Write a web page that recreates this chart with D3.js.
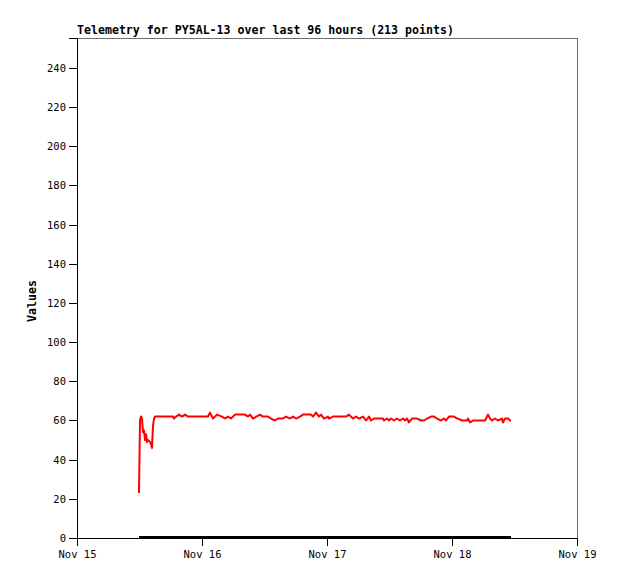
<!DOCTYPE html>
<html>
<head>
<meta charset="utf-8">
<script src="https://cdn.jsdelivr.net/npm/d3@7"></script>
<style>
    body { margin: 0; background: #fff; }
    svg text { font-family: "DejaVu Sans Mono", "Liberation Mono", monospace; }
</style>
</head>
<body>
<div id="chart"></div>
<script>
// telemetry, hours after Nov 15 00:00
var hours = [11.90, 12.10, 12.29, 12.48, 12.67, 12.86, 13.06, 13.25, 13.44, 13.63, 14.02, 14.21, 14.40, 14.59, 14.78, 14.98,
    18.43, 18.62, 19.01, 19.58, 20.16, 20.74, 21.31, 22.27, 25.15, 25.54, 26.11, 26.88, 27.84, 28.42, 28.99, 29.57,
    30.34, 32.26, 32.83, 33.22, 33.79, 35.14, 35.71, 36.67, 37.25, 38.02, 38.59, 39.55, 40.13, 40.90, 41.47, 42.05,
    42.82, 43.39, 43.97, 44.93, 45.31, 45.89, 46.46, 46.85, 47.42, 48.19, 48.38, 49.15, 51.65, 52.22, 52.99, 53.57,
    54.14, 54.91, 55.49, 56.06, 56.45, 57.02, 58.75, 58.94, 59.52, 59.90, 60.29, 60.86, 61.44, 62.02, 62.59, 62.98,
    63.36, 63.74, 64.32, 65.28, 66.05, 66.62, 67.20, 67.97, 68.54, 69.12, 69.89, 70.46, 70.85, 71.42, 72.38, 72.96,
    73.15, 73.92, 74.88, 75.07, 75.46, 76.03, 78.34, 78.91, 79.30, 79.68, 80.26, 80.83, 81.60, 81.79, 82.18, 82.75,
    83.14, 83.33];
var values = [23, 60, 62, 61, 54, 55, 50, 53, 49, 50, 49, 48, 46, 57, 61, 62,
    62, 61, 62, 63, 62, 63, 62, 62, 62, 64, 61, 63, 62, 61, 62, 61,
    63, 63, 62, 63, 61, 63, 62, 62, 61, 60, 61, 61, 62, 61, 62, 61,
    62, 63, 63, 63, 62, 64, 62, 63, 61, 62, 61, 62, 62, 63, 61, 62,
    61, 62, 60, 62, 60, 61, 61, 60, 61, 60, 61, 60, 61, 60, 61, 60,
    61, 59, 61, 61, 60, 60, 61, 62, 62, 61, 60, 61, 60, 62, 62, 61,
    61, 60, 60, 61, 59, 60, 60, 63, 61, 60, 61, 60, 61, 59, 61, 61,
    60, 60];
// second channel sits at zero
var zeroHours = [11.90, 83.33];
var zeroValues = [0, 0];

var dayTicks = ["2023-11-15", "2023-11-16", "2023-11-17", "2023-11-18", "2023-11-19"];
var yTicks = [0, 20, 40, 60, 80, 100, 120, 140, 160, 180, 200, 220, 240];
var title = "Telemetry for PY5AL-13 over last 96 hours (213 points)";

var base = new Date("2023-11-15T00:00:00Z");
function toDate(h) { return new Date(base.getTime() + h * 3600e3); }

var W = 618, H = 579, m = {left: 77, top: 38, right: 41, bottom: 41};
var pw = W - m.left - m.right, ph = H - m.top - m.bottom;

var svg = d3.select("#chart").append("svg").attr("width", W).attr("height", H);
var g = svg.append("g").attr("transform", "translate(" + m.left + "," + m.top + ")");

var x = d3.scaleUtc()
    .domain([new Date(dayTicks[0] + "T00:00:00Z"), new Date(dayTicks[dayTicks.length - 1] + "T00:00:00Z")])
    .range([0, pw]);
var y = d3.scaleLinear().domain([0, 255.3]).range([ph, 0]);

// frame
g.append("rect").attr("x", 0.5).attr("y", 0.5).attr("width", pw).attr("height", ph)
    .attr("fill", "none").attr("stroke", "#6e6e6e").attr("shape-rendering", "crispEdges");

var xAxis = g.append("g").attr("transform", "translate(0," + ph + ")")
    .call(d3.axisBottom(x).tickValues(dayTicks.map(function (d) { return new Date(d + "T00:00:00Z"); }))
        .tickFormat(d3.utcFormat("%b %d")).tickSize(8).tickPadding(5));
var yAxis = g.append("g")
    .call(d3.axisLeft(y).tickValues(yTicks).tickSize(8).tickPadding(3));

[xAxis, yAxis].forEach(function (a) {
    a.select(".domain").attr("stroke", "#000").attr("shape-rendering", "crispEdges");
    a.selectAll(".tick line").attr("stroke", "#000").attr("shape-rendering", "crispEdges");
    a.selectAll("text").attr("font-size", "10.5px").attr("fill", "#000")
        .attr("font-family", "DejaVu Sans Mono, monospace");
});

var line = d3.line()
    .x(function (d) { return x(toDate(d[0])); })
    .y(function (d) { return y(d[1]); });

g.append("path")
    .datum(zeroHours.map(function (h, i) { return [h, zeroValues[i]]; }))
    .attr("d", line).attr("fill", "none").attr("stroke", "#000").attr("stroke-width", 2)
    .attr("transform", "translate(0,-1)");

g.append("path")
    .datum(hours.map(function (h, i) { return [h, values[i]]; }))
    .attr("d", line).attr("fill", "none").attr("stroke", "#ff0000").attr("stroke-width", 2)
    .attr("stroke-linejoin", "round");

svg.append("text").attr("x", m.left).attr("y", 34)
    .attr("font-size", "11.6px").attr("font-weight", "bold").text(title);

svg.append("text").attr("transform", "translate(36," + (m.top + ph / 2 + 13) + ") rotate(-90)")
    .attr("text-anchor", "middle").attr("font-size", "11.6px").attr("font-weight", "bold").text("Values");
</script>
</body>
</html>
